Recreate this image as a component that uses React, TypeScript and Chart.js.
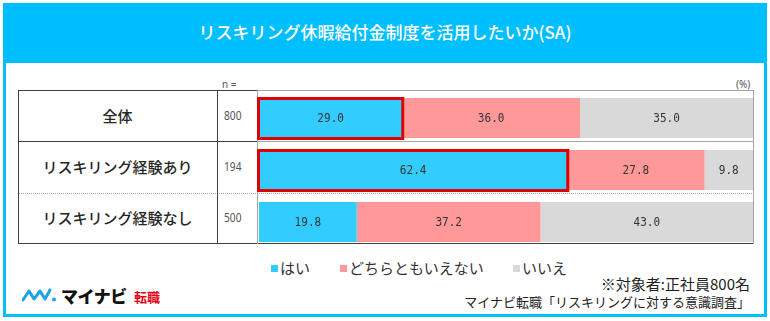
import React, { useEffect, useRef } from "react";
import { Chart, registerables } from "chart.js";

Chart.register(...registerables);

const title = "リスキリング休暇給付金制度を活用したいか(SA)";
const categories = ["全体", "リスキリング経験あり", "リスキリング経験なし"];
const nValues = ["800", "194", "500"];
const seriesNames = ["はい", "どちらともいえない", "いいえ"];
const yesValues = [29.0, 62.4, 19.8];
const neutralValues = [36.0, 27.8, 37.2];
const noValues = [35.0, 9.8, 43.0];
const highlightRows = [true, true, false];
const footNote1 = "※対象者:正社員800名";
const footNote2 = "マイナビ転職「リスキリングに対する意識調査」";

const COLORS = ["#33CCFF", "#FF9999", "#D9D9D9"];
const RED = "#E00000";
const CYAN = "#00BFFF";
const JP = '"Noto Sans CJK JP", "Noto Sans", sans-serif';

const barPlugin = {
  id: "barLabels",
  afterDatasetsDraw(chart: any) {
    const ctx = chart.ctx;
    ctx.save();
    chart.data.datasets.forEach((ds: any, di: number) => {
      const meta = chart.getDatasetMeta(di);
      meta.data.forEach((el: any, i: number) => {
        const p = el.getProps(["x", "y", "base", "height"], true);
        const left = Math.min(p.x, p.base);
        const right = Math.max(p.x, p.base);
        const top = p.y - p.height / 2;
        if (di === 0 && highlightRows[i]) {
          const ox = left - 2, oy = top - 1, ow = right - left + 4, oh = p.height + 3;
          ctx.strokeStyle = RED;
          ctx.lineWidth = 3;
          ctx.strokeRect(ox + 1.5, oy + 1.5, ow - 3, oh - 3);
        }
        const v = ds.data[i] as number;
        ctx.save();
        ctx.translate((left + right) / 2, p.y + 1);
        ctx.scale(0.85, 1);
        ctx.font = '13px "DejaVu Sans Mono", monospace';
        ctx.fillStyle = "#333333";
        ctx.textAlign = "center";
        ctx.textBaseline = "middle";
        ctx.fillText(v.toFixed(1), 0, 0);
        ctx.restore();
      });
    });
    ctx.restore();
  },
};

function Line(props: { x: number; y: number; w: number; h: number; c: string; dotted?: boolean }) {
  const { x, y, w, h, c, dotted } = props;
  const style: any = { position: "absolute", left: x, top: y, width: w, height: h };
  if (dotted) {
    style.borderTop = `1px dotted ${c}`;
    style.height = 0;
  } else {
    style.background = c;
  }
  return <div style={style} />;
}

export default function App() {
  const canvasRef = useRef<HTMLCanvasElement>(null);

  useEffect(() => {
    const canvas = canvasRef.current;
    if (!canvas) return;
    const chart = new Chart(canvas, {
      type: "bar",
      data: {
        labels: categories,
        datasets: [
          { label: seriesNames[0], data: yesValues, backgroundColor: COLORS[0] },
          { label: seriesNames[1], data: neutralValues, backgroundColor: COLORS[1] },
          { label: seriesNames[2], data: noValues, backgroundColor: COLORS[2] },
        ],
      },
      options: {
        indexAxis: "y",
        responsive: false,
        animation: false,
        devicePixelRatio: 1,
        layout: { padding: { left: 259, right: 17, top: 92, bottom: 73 } },
        datasets: { bar: { barPercentage: 0.77, categoryPercentage: 1, borderWidth: 0 } },
        scales: {
          x: { stacked: true, min: 0, max: 100, display: false },
          y: { stacked: true, display: false },
        },
        plugins: { legend: { display: false }, tooltip: { enabled: false } },
        events: [],
      } as any,
      plugins: [barPlugin],
    });
    return () => chart.destroy();
  }, []);

  const dark = "#404040";
  const gray = "#A6A6A6";
  const rowCenters = [116, 167, 218];

  return (
    <div style={{ position: "relative", width: 770, height: 321, background: "#fff", overflow: "hidden", fontFamily: JP }}>
      <style>{"body{margin:0;}"}</style>
      {/* frame */}
      <div style={{ position: "absolute", left: 3, top: 3, width: 764, height: 314, border: `3px solid ${CYAN}`, boxSizing: "border-box" }} />
      <div style={{ position: "absolute", left: 3, top: 3, width: 764, height: 60, background: CYAN, color: "#fff", fontSize: 17, lineHeight: "58px", textAlign: "center", fontWeight: 500 }}>
        {title}
      </div>
      {/* header marks */}
      <div style={{ position: "absolute", left: 222, top: 78, fontSize: 10, color: "#555", lineHeight: "12px", fontFamily: '"Noto Sans", sans-serif' }}>n =</div>
      <div style={{ position: "absolute", left: 736, top: 78, fontSize: 10, color: "#555", lineHeight: "12px", fontFamily: '"Noto Sans", sans-serif' }}>(%)</div>
      {/* table lines */}
      <Line x={18} y={90} w={240} h={1} c={dark} />
      <Line x={258} y={90} w={496} h={1} c={gray} />
      <Line x={18} y={141} w={240} h={1} c={dark} />
      <Line x={258} y={141} w={496} h={1} c={gray} />
      <Line x={18} y={193} w={736} h={1} c={gray} dotted />
      <Line x={18} y={243} w={736} h={1} c={dark} />
      <Line x={18} y={90} w={1} h={154} c={dark} />
      <Line x={217} y={90} w={1} h={154} c={dark} />
      <Line x={257} y={90} w={1} h={154} c={gray} />
      <Line x={753} y={90} w={1} h={154} c={gray} />
      {categories.map((c, i) => (
        <div key={c} style={{ position: "absolute", left: 18, width: 199, top: rowCenters[i] - 12, height: 24, lineHeight: "24px", textAlign: "center", fontSize: 15, fontWeight: 500, color: "#262626" }}>
          {c}
        </div>
      ))}
      {nValues.map((n, i) => (
        <div key={i} style={{ position: "absolute", left: 224, top: rowCenters[i] - 10, height: 20, lineHeight: "20px", fontSize: 12, color: "#555", fontFamily: '"Noto Sans", sans-serif', transform: "scaleX(0.85)", transformOrigin: "left center" }}>
          {n}
        </div>
      ))}
      {/* legend */}
      {[
        { x: 271, tx: 280 },
        { x: 340, tx: 349 },
        { x: 513, tx: 522 },
      ].map((l, i) => (
        <React.Fragment key={i}>
          <div style={{ position: "absolute", left: l.x, top: 265, width: 7, height: 7, background: COLORS[i] }} />
          <div style={{ position: "absolute", left: l.tx, top: 258, height: 20, lineHeight: "20px", fontSize: 15, color: "#333" }}>{seriesNames[i]}</div>
        </React.Fragment>
      ))}
      {/* footnotes */}
      <div style={{ position: "absolute", right: 20, top: 274, height: 20, lineHeight: "20px", fontSize: 15, color: "#222", whiteSpace: "nowrap" }}>{footNote1}</div>
      <div style={{ position: "absolute", right: 20, top: 292, height: 20, lineHeight: "20px", fontSize: 13, color: "#222", whiteSpace: "nowrap" }}>{footNote2}</div>
      {/* logo */}
      <svg style={{ position: "absolute", left: 22, top: 288 }} width={36} height={14} viewBox="0 0 36 14">
        <path d="M1 12 L7 3 L12 11 L18 3 L23 11 L28 2" fill="none" stroke="#1AA3E8" strokeWidth={3} strokeLinecap="round" strokeLinejoin="round" />
        <circle cx={32} cy={11.5} r={2} fill="#1AA3E8" />
      </svg>
      <div style={{ position: "absolute", left: 61, top: 284, height: 24, lineHeight: "24px", fontSize: 17, fontWeight: 900, color: "#111", letterSpacing: -0.5 }}>マイナビ</div>
      <div style={{ position: "absolute", left: 134, top: 288, height: 18, lineHeight: "18px", fontSize: 13, fontWeight: 700, color: "#E60012" }}>転職</div>
      <canvas ref={canvasRef} width={770} height={321} style={{ position: "absolute", left: 0, top: 0, width: 770, height: 321 }} />
    </div>
  );
}
